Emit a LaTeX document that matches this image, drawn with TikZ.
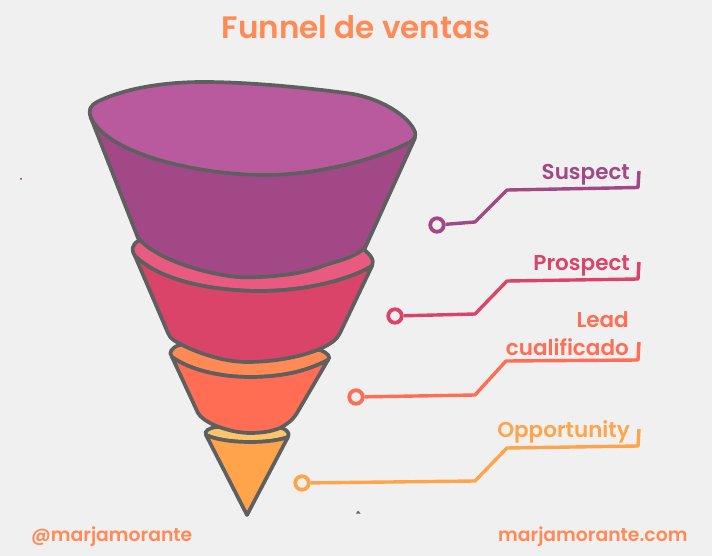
\documentclass[tikz,border=0pt]{standalone}
\usepackage{fontspec}
\setmainfont{Poppins}[BoldFont={Poppins SemiBold}]
\definecolor{bgc}{HTML}{F0F0F0}
\definecolor{edgec}{HTML}{5F5F5F}
\definecolor{purA}{HTML}{A24886}
\definecolor{purB}{HTML}{B95A9F}
\definecolor{redA}{HTML}{D94468}
\definecolor{redB}{HTML}{E85A80}
\definecolor{oraA}{HTML}{FF6D55}
\definecolor{oraB}{HTML}{FF8A56}
\definecolor{ambA}{HTML}{FFA44A}
\definecolor{ambB}{HTML}{FDC56B}
\tikzset{
  funnel/.style={draw=edgec,line width=3.7pt,line join=round},
  ring/.style={circle,draw=#1,fill=bgc,line width=3.8pt,minimum size=13.5pt,inner sep=0pt},
  lead/.style={draw=#1,line width=3.4pt,line join=round},
  lab/.style={font=\bfseries\fontsize{21.5}{24}\selectfont,text=#1,anchor=base east,inner sep=0pt},
  foot/.style={font=\bfseries\fontsize{18.8}{24}\selectfont,text=#1,anchor=base west,inner sep=0pt}
}
\begin{document}
\begin{tikzpicture}[x=1pt,y=-1pt]
\useasboundingbox[fill=bgc] (0,0) rectangle (712,556);
\fill[purA!70!black] (21,179) circle (1pt);
\fill[edgec] (356,513.5) -- (358,510.5) -- (360.5,513.5) -- cycle;
% tier 4
\draw[funnel,fill=ambB] (206,435) .. controls (204,431) and (209,428) .. (216,427) -- (282,428) .. controls (287,430) and (290,433) .. (288,437) .. controls (270,444) and (225,444) .. (206,435) -- cycle;
\draw[funnel,fill=ambA] (206,435) .. controls (225,444) and (270,444) .. (288,437) -- (247,515) -- cycle;
% tier 3
\draw[funnel,fill=oraB] (172,357) .. controls (168,352) and (172,348) .. (179,345) -- (320,350) .. controls (328,353) and (331,357) .. (328,360) .. controls (305,372) and (280,377) .. (250,377) .. controls (220,377) and (190,370) .. (172,357) -- cycle;
\draw[funnel,fill=oraA] (172,357) .. controls (190,370) and (220,377) .. (250,377) .. controls (280,377) and (305,372) .. (328,360) -- (297,413) .. controls (292,421) and (287,424) .. (280,428) .. controls (270,432) and (260,433) .. (250,433) .. controls (235,433) and (215,427) .. (205,420) .. controls (201,417) and (199,415) .. (198,413) -- cycle;
% tier 2
\draw[funnel,fill=redB] (135,256) .. controls (131,250) and (132,245) .. (138,241) -- (362,248) .. controls (370,254) and (375,260) .. (372,266) .. controls (345,282) and (300,291) .. (260,291) .. controls (225,291) and (165,285) .. (135,256) -- cycle;
\draw[funnel,fill=redA] (135,256) .. controls (165,285) and (225,291) .. (260,291) .. controls (300,291) and (345,282) .. (372,266) -- (340,333) .. controls (337,340) and (330,344) .. (322,348) .. controls (300,358) and (270,362) .. (247,362) .. controls (220,362) and (190,350) .. (175,341) .. controls (170,338) and (169,335) .. (168,333) -- cycle;
% tier 1
\draw[funnel,fill=purA] (91,118) -- (415,138) -- (365,248) .. controls (350,260) and (335,261) .. (320,267) .. controls (295,276) and (260,278) .. (237,277) .. controls (200,273) and (155,258) .. (138,238) -- cycle;
\draw[funnel,fill=purB] (91,118) .. controls (88,110) and (90,106) .. (97,102) .. controls (125,88) and (165,82) .. (203,82) .. controls (250,82) and (310,88) .. (353,94) .. controls (385,100) and (410,118) .. (415,132) .. controls (416,136) and (415,139) .. (410,142) .. controls (380,158) and (320,175) .. (265,175) .. controls (210,175) and (130,160) .. (100,130) .. controls (96,126) and (93,122) .. (91,118) -- cycle;
% labels
\node[font=\bfseries\fontsize{31}{34}\selectfont,text=oraB,inner sep=0pt,anchor=base] (title) at (356,39) {Funnel de ventas};
\node[lab=purA] (tS) at (630,180) {Suspect};
\node[lab=redA] (tP) at (630,270) {Prospect};
\node[lab=oraA] (tL) at (629,327) {Lead};
\node[lab=oraA] (tC) at (629,355) {cualificado};
\node[lab=ambA] (tO) at (630,437) {Opportunity};
\node[foot=oraB] (f1) at (31,541) {@marjamorante};
\node[foot=oraB] (f2) at (498,541) {marjamorante.com};
% connectors
\node[ring=purA] (r1) at (437,225) {};
\coordinate (a1) at (475,222); \coordinate (b1) at (507,190); \coordinate (c1) at (638,187.5); \coordinate (d1) at (639,171);
\draw[lead=purA] (r1) -- (a1) -- (b1) -- (c1) -- (d1);
\node[ring=redA] (r2) at (395,316) {};
\coordinate (a2) at (475,314); \coordinate (b2) at (507,281); \coordinate (c2) at (638,279); \coordinate (d2) at (639,262);
\draw[lead=redA] (r2) -- (a2) -- (b2) -- (c2) -- (d2);
\node[ring=oraA] (r3) at (356,397) {};
\coordinate (a3) at (475,395); \coordinate (b3) at (506,361); \coordinate (c3) at (638,360); \coordinate (d3) at (639,342);
\draw[lead=oraA] (r3) -- (a3) -- (b3) -- (c3) -- (d3);
\node[ring=ambA] (r4) at (302,483) {};
\coordinate (a4) at (475,481); \coordinate (b4) at (507,448); \coordinate (c4) at (638,446); \coordinate (d4) at (639,429);
\draw[lead=ambA] (r4) -- (a4) -- (b4) -- (c4) -- (d4);
\end{tikzpicture}
\end{document}
